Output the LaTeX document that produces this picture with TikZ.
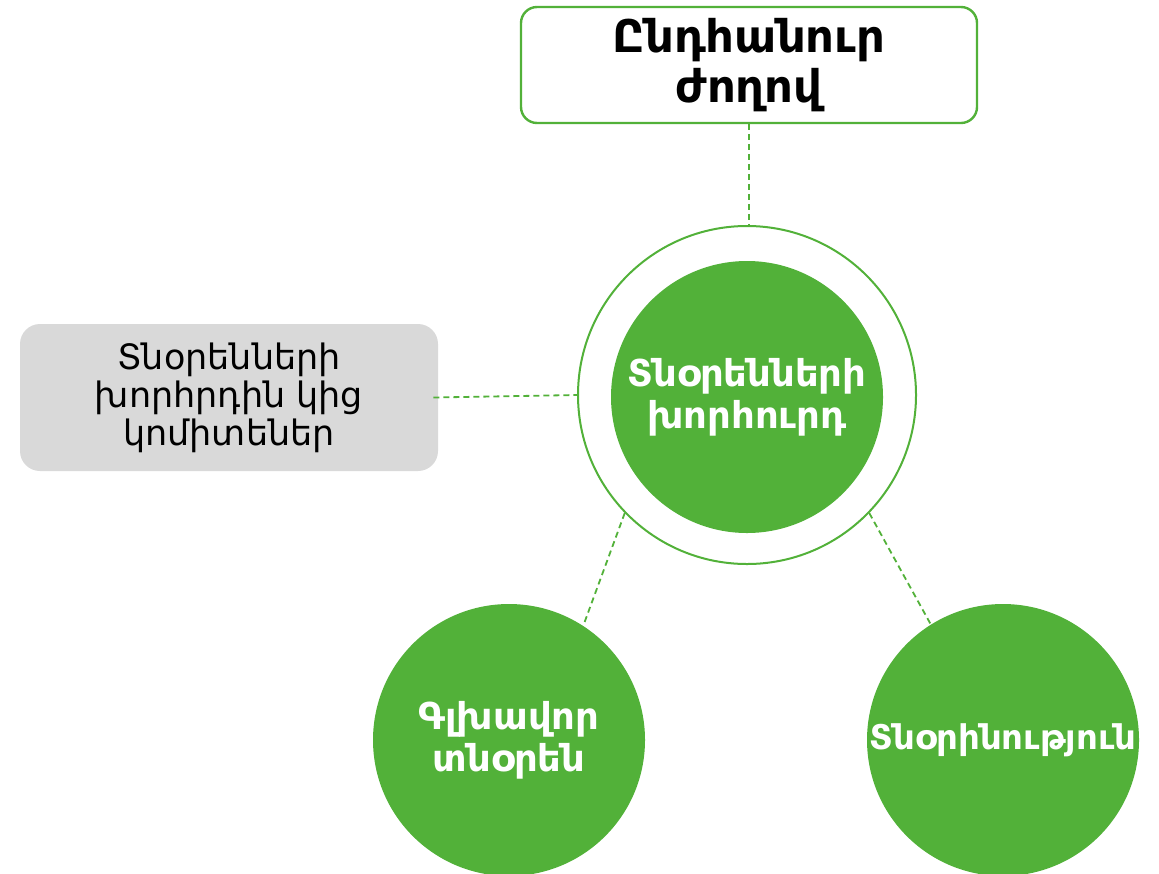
\documentclass[tikz,border=0pt]{standalone}
\usepackage{fontspec}
\setmainfont{DejaVu Sans}
\usetikzlibrary{positioning}
\definecolor{boardgreen}{RGB}{82,177,57}
\definecolor{boxgray}{RGB}{217,217,217}

\begin{document}
\begin{tikzpicture}[x=0.5pt,y=-0.5pt,
    greencircle/.style={circle, fill=boardgreen, text=white, align=center, inner sep=0pt,
        minimum size=136pt, font=\bfseries\fontsize{18.5}{21}\selectfont},
    link/.style={boardgreen, line width=0.9pt, dash pattern=on 3pt off 2pt}]
    \useasboundingbox (0,0) rectangle (1159,873);
    % General assembly
    \node[draw=boardgreen, line width=1.2pt, fill=white, rounded corners=8pt, align=center,
        minimum width=228pt, minimum height=58pt, font=\bfseries\fontsize{22.5}{25}\selectfont]
        (assembly) at (749,65) {Ընդհանուր\\ժողով};
    % Board of directors
    \node[circle, draw=boardgreen, line width=1pt, minimum size=169pt] (ring) at (747,395) {};
    \node[greencircle] (board) at (747,397) {Տնօրենների\\խորհուրդ};
    % Committees
    \node[fill=boxgray, rounded corners=10pt, align=center, minimum width=209pt,
        minimum height=73.5pt, font=\fontsize{17.5}{19}\selectfont]
        (committees) at (229,397.5) {Տնօրենների\\խորհրդին կից\\կոմիտեներ};
    % CEO and management
    \node[greencircle] (ceo) at (509,740) {Գլխավոր\\տնօրեն};
    \node[greencircle, font=\bfseries\fontsize{17}{20}\selectfont] (mgmt) at (1003,740) {Տնօրինություն};
    % Dashed links
    \draw[link] (assembly.south) -- (assembly.south |- ring.north);
    \draw[link] ([xshift=-2.5pt]committees.east) -- (ring.west);
    \draw[link] (ring.-136) -- (ceo.57);
    \draw[link] (ring.-44) -- (mgmt.122);
\end{tikzpicture}
\end{document}
